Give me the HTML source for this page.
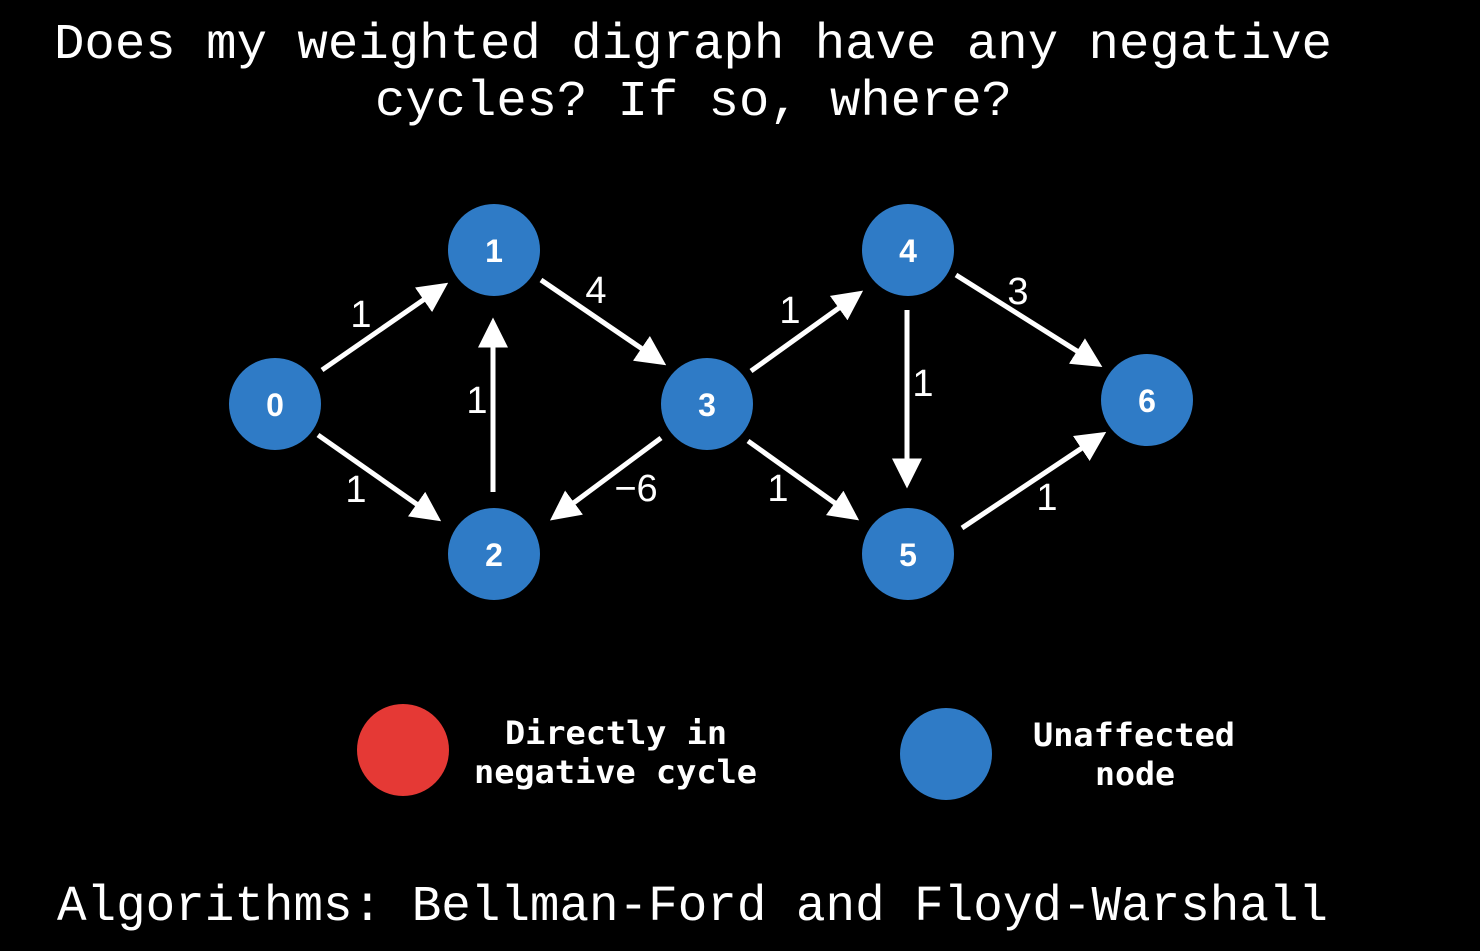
<!DOCTYPE html>
<html><head><meta charset="utf-8"><style>
html,body{margin:0;padding:0;background:#000;}
svg{display:block}
</style></head><body>
<svg width="1480" height="951" viewBox="0 0 1480 951" xmlns="http://www.w3.org/2000/svg">
<defs>
<marker id="a" markerWidth="6" markerHeight="6" refX="4.5" refY="3" orient="auto" markerUnits="strokeWidth">
<path d="M0,0 L6,3 L0,6 Z" fill="#fff"/>
</marker>
</defs>
<rect width="1480" height="951" fill="#000"/>
<g font-family="Liberation Mono, DejaVu Sans Mono, monospace" fill="#fff" font-size="50">
<text x="54" y="58" textLength="1278" lengthAdjust="spacingAndGlyphs">Does my weighted digraph have any negative</text>
<text x="375" y="115" textLength="637" lengthAdjust="spacingAndGlyphs">cycles? If so, where?</text>
<text x="57" y="920" textLength="1271" lengthAdjust="spacingAndGlyphs">Algorithms: Bellman-Ford and Floyd-Warshall</text>
</g>
<g stroke="#fff" stroke-width="5" marker-end="url(#a)">
<line x1="322" y1="370" x2="442" y2="287"/>
<line x1="318" y1="435" x2="435" y2="517"/>
<line x1="541" y1="280" x2="660" y2="361"/>
<line x1="493" y1="492" x2="493" y2="325"/>
<line x1="661" y1="438" x2="556" y2="516"/>
<line x1="751" y1="371" x2="857" y2="295"/>
<line x1="748" y1="441" x2="853" y2="516"/>
<line x1="907" y1="310" x2="907" y2="481"/>
<line x1="956" y1="275" x2="1096" y2="363"/>
<line x1="962" y1="528" x2="1100" y2="436"/>
</g>
<g font-family="Liberation Sans, sans-serif" fill="#fff" font-size="38" text-anchor="middle">
<text x="361" y="327">1</text>
<text x="356" y="502">1</text>
<text x="596" y="303">4</text>
<text x="477" y="413">1</text>
<text x="636" y="501">−6</text>
<text x="790" y="323">1</text>
<text x="778" y="501">1</text>
<text x="923" y="396">1</text>
<text x="1018" y="304">3</text>
<text x="1047" y="510">1</text>
</g>
<g fill="#2f7bc6">
<circle cx="275" cy="404" r="46"/>
<circle cx="494" cy="250" r="46"/>
<circle cx="494" cy="554" r="46"/>
<circle cx="707" cy="404" r="46"/>
<circle cx="908" cy="250" r="46"/>
<circle cx="908" cy="554" r="46"/>
<circle cx="1147" cy="400" r="46"/>
<circle cx="946" cy="754" r="46"/>
</g>
<circle cx="403" cy="750" r="46" fill="#e53935"/>
<g font-family="Liberation Sans, sans-serif" font-weight="bold" fill="#fff" font-size="32" text-anchor="middle">
<text x="275" y="416">0</text>
<text x="494" y="262">1</text>
<text x="494" y="566">2</text>
<text x="707" y="416">3</text>
<text x="908" y="262">4</text>
<text x="908" y="566">5</text>
<text x="1147" y="412">6</text>
</g>
<g font-family="DejaVu Sans Mono, Liberation Mono, monospace" font-weight="bold" fill="#fff" font-size="32">
<text x="505" y="744" textLength="222" lengthAdjust="spacingAndGlyphs">Directly in</text>
<text x="474" y="783" textLength="283" lengthAdjust="spacingAndGlyphs">negative cycle</text>
<text x="1033" y="746" textLength="202" lengthAdjust="spacingAndGlyphs">Unaffected</text>
<text x="1095" y="785" textLength="80" lengthAdjust="spacingAndGlyphs">node</text>
</g>
</svg>
</body></html>
